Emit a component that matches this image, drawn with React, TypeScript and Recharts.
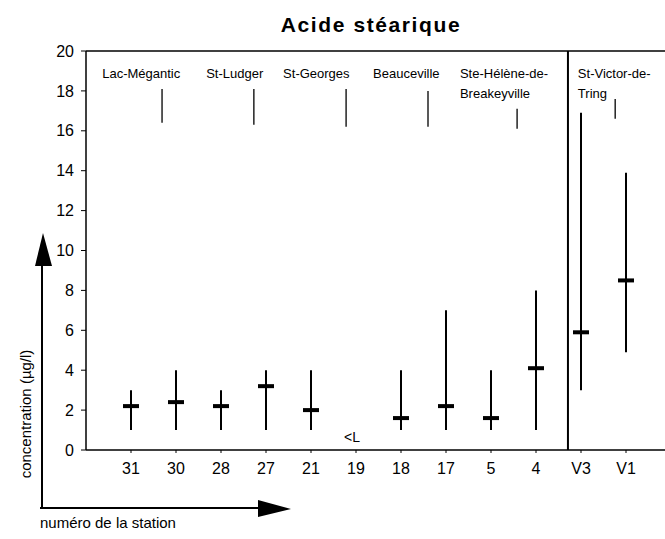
import {
  ComposedChart,
  Scatter,
  ErrorBar,
  XAxis,
  YAxis,
  ReferenceLine,
  ReferenceDot,
} from "recharts";

// stations, left to right
const stations = ["31", "30", "28", "27", "21", "19", "18", "17", "5", "4", "V3", "V1"];
// mean / min / max concentration (µg/l); null = below limit
const means = [2.2, 2.4, 2.2, 3.2, 2.0, null, 1.6, 2.2, 1.6, 4.1, 5.9, 8.5];
const mins = [1, 1, 1, 1, 1, null, 1, 1, 1, 1, 3, 4.9];
const maxs = [3, 4, 3, 4, 4, null, 4, 7, 4, 8, 16.9, 13.9];

const yTicks = [0, 2, 4, 6, 8, 10, 12, 14, 16, 18, 20];

// towns along the river: label anchor (x in station units) and marker line
const towns = ["Lac-Mégantic", "St-Ludger", "St-Georges", "Beauceville", "Ste-Hélène-de-|Breakeyville", "St-Victor-de-|Tring"];
const townLabelX = [0.36, 2.67, 4.38, 6.38, 8.31, 10.93];
const townMarkX = [1.69, 3.73, 5.78, 7.6, 9.58, 11.76];
const townMarkTop = [18.1, 18.1, 18.1, 18.0, 17.1, 17.6];
const townMarkBottom = [16.4, 16.3, 16.2, 16.2, 16.1, 16.6];

const separatorX = 10.71;
const belowLimit = { x: 6, y: 0.65 };

const data = stations
  .map((s, i) => ({
    x: i + 1,
    name: s,
    mean: means[i],
    err: means[i] == null ? [0, 0] : [means[i]! - mins[i]!, maxs[i]! - means[i]!],
  }))
  .filter((d) => d.mean != null);

const markData = townMarkX.map((x, i) => ({
  x,
  top: townMarkTop[i],
  err: [townMarkTop[i] - townMarkBottom[i], 0],
}));

const sepData = [{ x: separatorX, top: 20, err: [20, 0] }];
const limitData = [{ x: belowLimit.x, top: belowLimit.y }];

const font = "Arial, 'Liberation Sans', sans-serif";

const MeanMark = (props: any) => {
  const { cx, cy } = props;
  if (cx == null || cy == null) return <g />;
  return <rect x={cx - 8} y={cy - 2} width={16} height={4} fill="#000" />;
};

const NoMark = () => <g />;

const TownLabel = (text: string) => (props: any) => {
  const { cx, cy } = props;
  const lines = text.split("|");
  return (
    <text x={cx} y={cy} fontFamily={font} fontSize={13} fill="#000" textAnchor="start">
      {lines.map((l, i) => (
        <tspan key={i} x={cx} dy={i === 0 ? 4 : 20}>
          {l}
        </tspan>
      ))}
    </text>
  );
};

const BelowLimit = (props: any) => {
  const { cx, cy } = props;
  if (cx == null || cy == null) return <g />;
  return (
    <text x={cx - 4} y={cy + 5} fontFamily={font} fontSize={14} fill="#000" textAnchor="middle">
      {"<L"}
    </text>
  );
};

// plot runs past the right edge of the window, as in the scan
const chartW = 685;
const xMax = (chartW - 86) / 45;

export default function App() {
  return (
    <div style={{ position: "absolute", left: 0, top: 0, width: 665, height: 539, overflow: "hidden", background: "#fff" }}>
      <ComposedChart
        width={chartW}
        height={539}
        data={data}
        margin={{ top: 51, right: 0, bottom: 59, left: 0 }}
      >
        <XAxis
          type="number"
          dataKey="x"
          domain={[0, xMax]}
          ticks={stations.map((_, i) => i + 1)}
          tickFormatter={(v: number) => stations[v - 1] ?? ""}
          allowDataOverflow
          height={30}
          axisLine={{ stroke: "#000", strokeWidth: 1.5 }}
          tickLine={{ stroke: "#000" }}
          tickSize={3}
          tickMargin={10}
          tick={{ fontSize: 16, fill: "#000", fontFamily: font }}
        />
        <YAxis
          type="number"
          domain={[0, 20]}
          ticks={yTicks}
          width={86}
          axisLine={{ stroke: "#000", strokeWidth: 1.5 }}
          tickLine={{ stroke: "#000" }}
          tickSize={5}
          tickMargin={7}
          tick={{ fontSize: 16, fill: "#000", fontFamily: font }}
        />
        <ReferenceLine
          segment={[
            { x: 0, y: 20 },
            { x: xMax, y: 20 },
          ]}
          stroke="#000"
          strokeWidth={1.5}
        />
        {towns.map((t, i) => (
          <ReferenceDot
            key={"l" + t}
            x={townLabelX[i]}
            y={18.85}
            r={0}
            shape={TownLabel(t)}
          />
        ))}
        <Scatter data={sepData} dataKey="top" shape={NoMark} isAnimationActive={false}>
          <ErrorBar dataKey="err" direction="y" width={0} stroke="#000" strokeWidth={2} />
        </Scatter>
        <Scatter data={markData} dataKey="top" shape={NoMark} isAnimationActive={false}>
          <ErrorBar dataKey="err" direction="y" width={0} stroke="#222" strokeWidth={1.5} />
        </Scatter>
        <Scatter data={limitData} dataKey="top" shape={BelowLimit} isAnimationActive={false} />
        <Scatter dataKey="mean" shape={MeanMark} isAnimationActive={false}>
          <ErrorBar dataKey="err" direction="y" width={0} stroke="#000" strokeWidth={2} />
        </Scatter>
      </ComposedChart>
      <svg
        width={665}
        height={539}
        style={{ position: "absolute", left: 0, top: 0, pointerEvents: "none" }}
      >
        <text x={371} y={32} textAnchor="middle" fontFamily={font} fontSize={21} fontWeight="bold" letterSpacing={1.6}>
          Acide stéarique
        </text>
        <line x1={42} y1={264} x2={42} y2={508} stroke="#000" strokeWidth={2} />
        <polygon points="43,233 35,266 52,266" fill="#000" />
        <line x1={40} y1={508} x2={262} y2={508} stroke="#000" strokeWidth={2} />
        <polygon points="291,509 258,500 258,517" fill="#000" />
        <text
          x={25}
          y={414}
          transform="rotate(-90 25 414)"
          textAnchor="middle"
          dominantBaseline="central"
          fontFamily={font}
          fontSize={15}
        >
          concentration (µg/l)
        </text>
        <text x={40} y={528} fontFamily={font} fontSize={15}>
          numéro de la station
        </text>
      </svg>
    </div>
  );
}
